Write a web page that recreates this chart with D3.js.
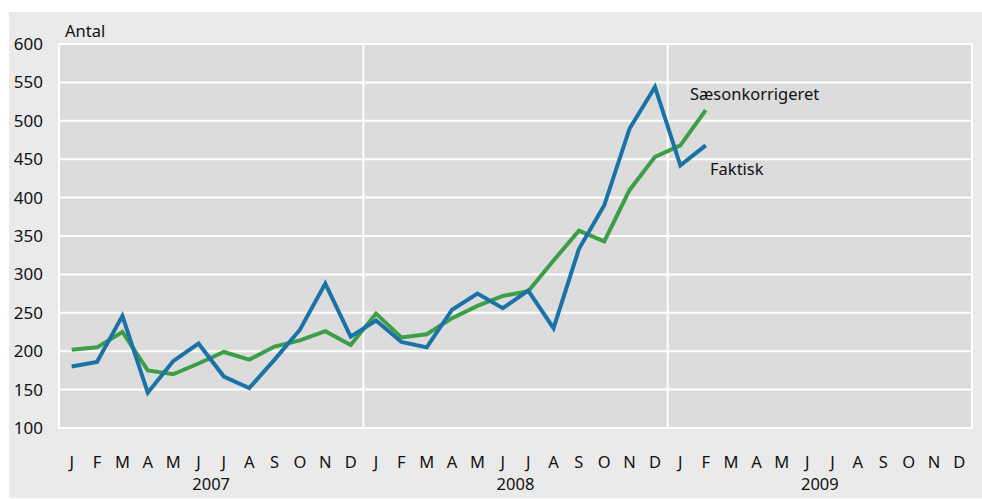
<!DOCTYPE html>
<html>
<head>
<meta charset="utf-8">
<script src="https://cdn.jsdelivr.net/npm/d3@7"></script>
<style>
  body { margin: 0; background: #fff; }
  text { font-family: "Noto Sans", "Open Sans", sans-serif; fill: #111; }
</style>
</head>
<body>
<div id="chart"></div>
<script>
// data
var years = ["2007", "2008", "2009"];
var monthLetters = ["J", "F", "M", "A", "M", "J", "J", "A", "S", "O", "N", "D"];
var yTicks = [100, 150, 200, 250, 300, 350, 400, 450, 500, 550, 600];

var faktisk = [180, 186, 246, 146, 187, 210, 167, 152, 189, 228, 288, 219,
               240, 212, 205, 254, 275, 256, 279, 230, 333, 390, 490, 544,
               442, 468];
var saeson = [202, 205, 225, 175, 170, 184, 199, 189, 206, 214, 226, 208,
              249, 218, 222, 243, 259, 272, 278, 318, 357, 343, 410, 453,
              468, 514];

var width = 982,
    height = 499;
var plot = {left: 59, right: 972, top: 44, bottom: 428};

// one slot per month, 3 years
var slots = d3.range(years.length * 12);

var x = d3.scaleBand()
  .domain(slots)
  .range([plot.left, plot.right]);

var y = d3.scaleLinear()
  .domain([100, 600])
  .range([plot.bottom, plot.top]);

var svg = d3.select("#chart").append("svg")
  .attr("width", width)
  .attr("height", height);

// outer panel + plot area
svg.append("rect")
  .attr("x", 9).attr("y", 12)
  .attr("width", width - 9).attr("height", height - 13)
  .attr("fill", "#eaeaea");

svg.append("rect")
  .attr("x", plot.left).attr("y", plot.top)
  .attr("width", plot.right - plot.left).attr("height", plot.bottom - plot.top)
  .attr("fill", "#dcdcdc");

// horizontal grid
svg.append("g")
  .selectAll("line")
  .data(yTicks)
  .enter().append("line")
  .attr("x1", plot.left).attr("x2", plot.right)
  .attr("y1", function(d) { return y(d); })
  .attr("y2", function(d) { return y(d); })
  .attr("stroke", "#fff")
  .attr("stroke-width", 2);

// year separators and frame sides
var yearEdges = d3.range(years.length + 1).map(function(i) {
  return i < years.length ? x(i * 12) : plot.right;
});
svg.append("g")
  .selectAll("line")
  .data(yearEdges)
  .enter().append("line")
  .attr("x1", function(d) { return d; })
  .attr("x2", function(d) { return d; })
  .attr("y1", plot.top)
  .attr("y2", plot.bottom + 1)
  .attr("stroke", "#fff")
  .attr("stroke-width", 2);

// y labels
svg.append("g")
  .selectAll("text")
  .data(yTicks)
  .enter().append("text")
  .attr("x", 43)
  .attr("y", function(d) { return y(d) + 6; })
  .attr("text-anchor", "end")
  .attr("font-size", 17)
  .text(function(d) { return d; });

svg.append("text")
  .attr("x", 65).attr("y", 37)
  .attr("font-size", 16.5)
  .text("Antal");

// month letters
svg.append("g")
  .selectAll("text")
  .data(slots)
  .enter().append("text")
  .attr("x", function(d) { return x(d) + x.bandwidth() / 2; })
  .attr("y", 468)
  .attr("text-anchor", "middle")
  .attr("font-size", 16.5)
  .text(function(d) { return monthLetters[d % 12]; });

// years
svg.append("g")
  .selectAll("text")
  .data(years)
  .enter().append("text")
  .attr("x", function(d, i) { return x(i * 12) + x.bandwidth() * 6; })
  .attr("y", 490)
  .attr("text-anchor", "middle")
  .attr("font-size", 16.5)
  .text(function(d) { return d; });

var line = d3.line()
  .x(function(d, i) { return x(i) + x.bandwidth() / 2; })
  .y(function(d) { return y(d); });

svg.append("path")
  .datum(saeson)
  .attr("fill", "none")
  .attr("stroke", "#3c9e47")
  .attr("stroke-width", 4)
  .attr("d", line);

svg.append("path")
  .datum(faktisk)
  .attr("fill", "none")
  .attr("stroke", "#1a72a6")
  .attr("stroke-width", 4)
  .attr("d", line);

// series labels
svg.append("text")
  .attr("x", 690).attr("y", 100)
  .attr("font-size", 16.5)
  .text("Sæsonkorrigeret");

svg.append("text")
  .attr("x", 710).attr("y", 175)
  .attr("font-size", 16.5)
  .text("Faktisk");
</script>
</body>
</html>
